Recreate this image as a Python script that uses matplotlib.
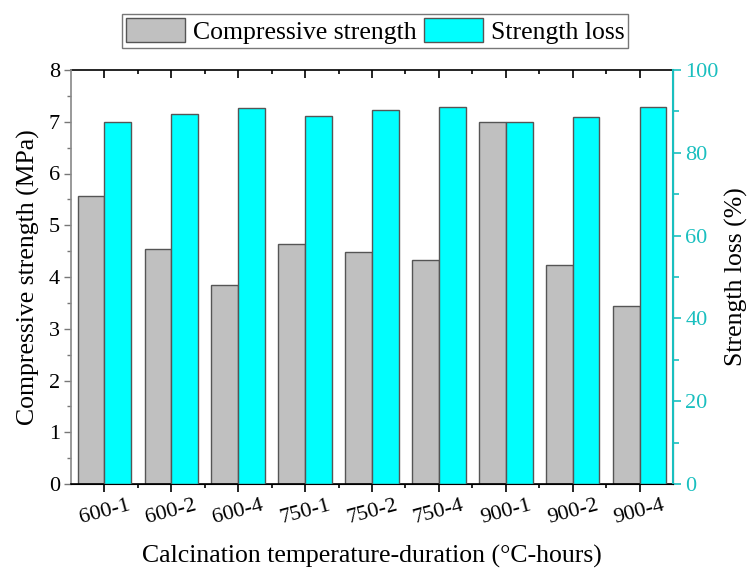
import matplotlib.pyplot as plt
import numpy as np
from matplotlib.ticker import MultipleLocator

plt.rcParams['font.family'] = ['Liberation Serif', 'DejaVu Serif']

categories = ["600-1", "600-2", "600-4", "750-1", "750-2", "750-4", "900-1", "900-2", "900-4"]
strength = [5.57, 4.54, 3.84, 4.63, 4.49, 4.33, 7.0, 4.23, 3.44]
loss = [87.4, 89.4, 90.9, 89.0, 90.3, 91.0, 87.5, 88.7, 91.0]

gray = "#C0C0C0"
cyan = "#00FFFF"
teal = "#1ABFBF"
edge = "#555555"

fig = plt.figure(figsize=(7.55, 5.72), dpi=100)
ax = fig.add_axes([71/755, 1 - 484/572, (673-71)/755, (484-70)/572])
ax2 = ax.twinx()

x = np.arange(1, len(categories) + 1)
w = 0.4
b1 = ax.bar(x - w/2, strength, w, color=gray, edgecolor=edge, linewidth=1, label="Compressive strength")
b2 = ax2.bar(x + w/2, loss, w, color=cyan, edgecolor=edge, linewidth=1, label="Strength loss")

ax.set_xlim(0.5, len(categories) + 0.5)
ax.set_ylim(0, 8)
ax2.set_ylim(0, 100)

# bottom ticks (outward)
ax.set_xticks(x)
ax.set_xticklabels(categories, rotation=15, fontsize=16)
ax.set_xticks(np.arange(1.5, len(categories), 1), minor=True)
ax.tick_params(axis='x', which='major', direction='out', length=6, width=1.2, pad=3)
ax.tick_params(axis='x', which='minor', direction='out', length=3, width=1.2)

# top ticks (inward)
top = ax.secondary_xaxis('top')
top.set_xticks(x)
top.set_xticks(np.arange(1.5, len(categories), 1), minor=True)
top.tick_params(axis='x', which='major', direction='in', length=6, width=1.2, labeltop=False)
top.tick_params(axis='x', which='minor', direction='in', length=3, width=1.2)
top.spines['top'].set_linewidth(1.2)

ax.yaxis.set_major_locator(MultipleLocator(1))
ax.yaxis.set_minor_locator(MultipleLocator(0.5))
ax.tick_params(axis='y', which='major', direction='out', length=5, width=1, labelsize=16, color='#777777', labelcolor='black', pad=3)
ax.tick_params(axis='y', which='minor', direction='out', length=3, width=1, color='#777777')

ax2.yaxis.set_major_locator(MultipleLocator(20))
ax2.yaxis.set_minor_locator(MultipleLocator(10))
ax2.tick_params(axis='y', which='major', direction='out', length=6, width=1.2, colors=teal, labelsize=16, pad=3)
ax2.tick_params(axis='y', which='minor', direction='out', length=4, width=1.2, colors=teal)

ax.set_ylabel("Compressive strength (MPa)", fontsize=18.5, labelpad=6)
ax2.set_ylabel("Strength loss (%)", fontsize=18.5, labelpad=4)
ax.set_xlabel("Calcination temperature-duration (°C-hours)", fontsize=18.5, labelpad=12)

ax.spines['bottom'].set_linewidth(1.2)
ax.spines['left'].set_color('#888888')
ax.spines['left'].set_linewidth(1.2)
ax2.spines['right'].set_color(teal)
ax2.spines['right'].set_linewidth(1.5)
ax2.spines['left'].set_visible(False)
ax2.spines['top'].set_visible(False)
ax.spines['top'].set_visible(False)

leg = fig.legend([b1, b2], ["Compressive strength", "Strength loss"], loc='center',
                 bbox_to_anchor=(375/755, 1 - 31/572), ncol=2, fontsize=18.5, frameon=True,
                 fancybox=False, edgecolor='#555555', handlelength=2.3, handleheight=1.05,
                 handletextpad=0.3, columnspacing=0.3, borderpad=0.15, borderaxespad=0)
leg.get_frame().set_linewidth(1)

plt.savefig("out.png", dpi=100)
